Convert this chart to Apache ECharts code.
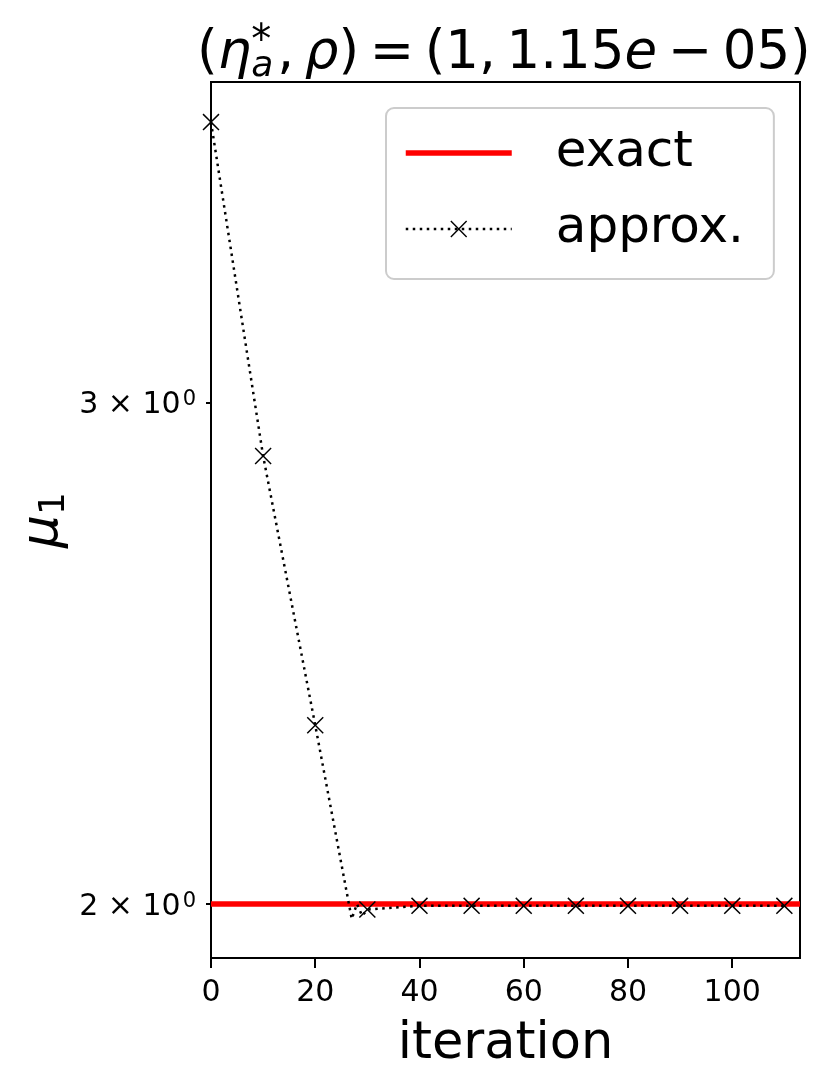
<!DOCTYPE html>
<html><head><meta charset="utf-8">
<script src="https://cdn.jsdelivr.net/npm/echarts@6/dist/echarts.min.js"></script>
<style>html,body{margin:0;padding:0;background:#fff}#c{width:837px;height:1090px}</style>
</head><body><div id="c"></div>
<script>
// ---- data ----
const approxX = [0, 10, 20, 27, 28, 29, 30, 40, 50, 60, 70, 80, 90, 100, 110];
const approxY = [3.763, 2.873, 2.311, 1.976, 2.000, 1.981, 1.991, 1.997, 1.997, 1.997, 1.997, 1.997, 1.997, 1.997, 1.997];
const markerEvery = 10;
const exactX = [0, 113];
const exactY = [2, 2];
const xTicks = [0, 20, 40, 60, 80, 100];
const yTicks = [2, 3];
const xRange = [0, 113];
const yRange = [1.9146, 3.887];
const seriesNames = ['exact', 'approx.'];

const FONT = 'DejaVu Sans';
const X_PATH = 'path://M0,6L6,0L50,44L94,0L100,6L56,50L100,94L94,100L50,56L6,100L0,94L44,50Z';
const TS = '\u2009'; // thin space

const chart = echarts.init(document.getElementById('c'), null, {renderer: 'canvas'});

const approxData = approxX.map((x, i) => {
  const item = {value: [x, approxY[i]]};
  if (x % markerEvery !== 0) item.symbol = 'none';
  return item;
});
const exactData = exactX.map((x, i) => [x, exactY[i]]);

const option = {
  animation: false,
  backgroundColor: '#fff',
  title: {
    left: 192, top: 18,
    text: '{p|(}{i|η}{st|*}{sb|a}{p|,' + TS + '}{i|ρ}{p|)' + TS + '=' + TS + '(1,' + TS + '1.15}{i|e}{p|' + TS + '−' + TS + '05)}',
    textStyle: {
      fontWeight: 'normal',
      rich: {
        p: {fontFamily: FONT, fontWeight: 'normal', fontSize: 53, color: '#000', lineHeight: 62, verticalAlign: 'middle'},
        i: {fontFamily: FONT, fontWeight: 'normal', fontStyle: 'italic', fontSize: 53, color: '#000', lineHeight: 62, verticalAlign: 'middle'},
        st: {fontFamily: FONT, fontWeight: 'normal', fontSize: 40, color: '#000', lineHeight: 40, verticalAlign: 'top', width: 0},
        sb: {fontFamily: FONT, fontWeight: 'normal', fontStyle: 'italic', fontSize: 36, color: '#000', lineHeight: 36, verticalAlign: 'bottom', padding: [0, 4, 0, 0]}
      }
    }
  },
  legend: {
    orient: 'vertical', left: 386, top: 108,
    padding: [20, 30, 25, 17],
    itemWidth: 106, itemHeight: 21, itemGap: 26,
    backgroundColor: 'rgba(255,255,255,0.8)',
    borderColor: '#cccccc', borderWidth: 2, borderRadius: 8,
    textStyle: {fontFamily: FONT, fontSize: 50, color: '#000', lineHeight: 50, padding: [0, 0, 0, 39]},
    data: [
      {name: seriesNames[0], itemStyle: {opacity: 0}, lineStyle: {width: 5.5}},
      {name: seriesNames[1], lineStyle: {width: 2.5}}
    ]
  },
  grid: {left: 211, top: 82, right: 37, bottom: 132, outerBoundsMode: 'none', containLabel: false,
         show: true, borderColor: '#000', borderWidth: 2, backgroundColor: 'transparent'},
  xAxis: {
    type: 'value', min: xRange[0], max: xRange[1],
    axisLine: {lineStyle: {color: '#000', width: 2}},
    axisTick: {customValues: xTicks, length: 10, lineStyle: {color: '#000', width: 2}},
    axisLabel: {customValues: xTicks, fontFamily: FONT, fontSize: 30, color: '#000', margin: 20},
    splitLine: {show: false},
    name: 'iteration', nameLocation: 'middle', nameGap: 61, nameMoveOverlap: false,
    nameTextStyle: {fontFamily: FONT, fontSize: 51, color: '#000'}
  },
  yAxis: {
    type: 'log', logBase: 10, min: yRange[0], max: yRange[1],
    axisLine: {show: true, lineStyle: {color: '#000', width: 2}},
    axisTick: {show: true, customValues: yTicks, length: 5, lineStyle: {color: '#000', width: 2}},
    minorTick: {show: false},
    axisLabel: {
      customValues: yTicks, margin: 15,
      formatter: v => '{a|' + Math.round(v) + ' × 10}{s|0}',
      rich: {
        a: {fontFamily: FONT, fontSize: 30, color: '#000', lineHeight: 36, verticalAlign: 'bottom'},
        s: {fontFamily: FONT, fontSize: 21, color: '#000', lineHeight: 21, verticalAlign: 'top', padding: [5, 0, 0, 2]}
      }
    },
    splitLine: {show: false},
    name: '{i|μ}{s|1}', nameLocation: 'middle', nameRotate: 90, nameGap: 138, nameMoveOverlap: false,
    nameTextStyle: {
      rich: {
        i: {fontFamily: FONT, fontStyle: 'italic', fontSize: 52, color: '#000', lineHeight: 60, verticalAlign: 'middle'},
        s: {fontFamily: FONT, fontSize: 36, color: '#000', lineHeight: 36, verticalAlign: 'bottom'}
      }
    }
  },
  series: [
    {
      name: seriesNames[0], type: 'line', data: exactData, symbol: 'none', clip: true,
      lineStyle: {color: '#ff0000', width: 5.5}, itemStyle: {color: '#ff0000'}, z: 2
    },
    {
      name: seriesNames[1], type: 'line', data: approxData, clip: true,
      symbol: X_PATH, symbolSize: 17,
      itemStyle: {color: '#000'},
      lineStyle: {color: '#000', width: 2.5, type: [2.5, 4.5]}, z: 3
    }
  ]
};
chart.setOption(option);
</script></body></html>
